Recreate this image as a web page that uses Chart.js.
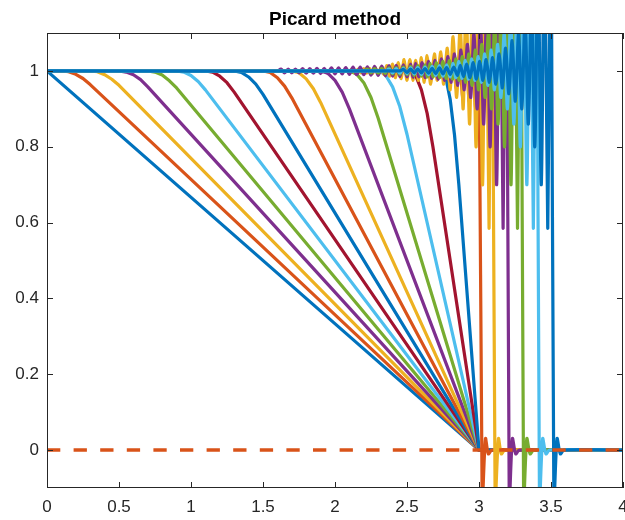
<!DOCTYPE html>
<html>
<head>
<meta charset="utf-8">
<script src="https://cdn.jsdelivr.net/npm/chart.js@4.4.1/dist/chart.umd.min.js"></script>
<style>
  html, body { margin: 0; padding: 0; background: #ffffff; }
  canvas { display: block; }
</style>
</head>
<body>
<canvas id="c" width="625" height="520"></canvas>
<script>
// Axis ticks
const xTicks = [0, 0.5, 1, 1.5, 2, 2.5, 3, 3.5, 4];
const yTicks = [0, 0.2, 0.4, 0.6, 0.8, 1];

// Profiles before the shock forms (t = 0 ... 2.8): plateau, rounded knee, ramp to (3, 0)
const u00 = [[0,1],[3,0],[4,0]];
const u02 = [[0,1],[0.1,1],[0.15,0.998],[0.2,0.991],[0.25,0.98],[0.3,0.964],[3,0],[4,0]];
const u04 = [[0,1],[0.3,1],[0.35,0.998],[0.4,0.99],[0.45,0.978],[0.5,0.962],[3,0],[4,0]];
const u06 = [[0,1],[0.5,1],[0.55,0.997],[0.6,0.99],[0.65,0.977],[0.7,0.958],[3,0],[4,0]];
const u08 = [[0,1],[0.7,1],[0.75,0.997],[0.8,0.989],[0.85,0.974],[0.9,0.955],[3,0],[4,0]];
const u10 = [[0,1],[0.9,1],[0.95,0.997],[1.0,0.988],[1.05,0.972],[1.1,0.95],[3,0],[4,0]];
const u12 = [[0,1],[1.1,1],[1.15,0.997],[1.2,0.986],[1.25,0.969],[1.3,0.944],[3,0],[4,0]];
const u14 = [[0,1],[1.3,1],[1.35,0.996],[1.4,0.984],[1.45,0.965],[1.5,0.938],[3,0],[4,0]];
const u16 = [[0,1],[1.5,1],[1.55,0.996],[1.6,0.982],[1.65,0.96],[1.7,0.929],[3,0],[4,0]];
const u18 = [[0,1],[1.7,1],[1.75,0.995],[1.8,0.979],[1.85,0.953],[1.9,0.917],[3,0],[4,0]];
const u20 = [[0,1],[1.9,1],[1.95,0.994],[2.0,0.975],[2.05,0.944],[2.1,0.9],[3,0],[4,0]];
const u22 = [[0,1],[2.1,1],[2.15,0.992],[2.2,0.969],[2.25,0.93],[2.3,0.875],[3,0],[4,0]];
const u24 = [[0,1],[2.3,1],[2.35,0.99],[2.4,0.958],[2.45,0.906],[2.5,0.833],[3,0],[4,0]];
const u26 = [[0,1],[2.52,1],[2.56,0.988],[2.6,0.95],[2.64,0.888],[2.68,0.8],[3,0],[4,0]];
const u28 = [[0,1],[2.74,1],[2.77,0.981],[2.8,0.925],[2.83,0.831],[2.86,0.7],[3,0],[4,0]];

// Profiles after the shock (t = 3.0 ... 4.0): ringing behind the jump, undershoot at the foot
const u30 = [[0,1],[2.6,1],[2.6175,0.992],[2.64,1.008],[2.6625,0.99],[2.685,1.01],[2.7075,0.985],[2.73,1.015],
  [2.7525,0.98],[2.775,1.02],[2.7975,0.97],[2.82,1.03],[2.8425,0.955],[2.865,1.04],[2.8875,0.93],[2.91,1.05],
  [2.9325,0.92],[2.955,1.06],[2.9775,0.9],[3.0,1.06],[3.022,-0.14],[3.045,0.03],[3.065,-0.01],[3.09,0],[4,0]];

const u32 = [[0,1],[2.10,1],[2.12,1.005],[2.14,0.995],[2.16,1.005],[2.18,0.995],[2.20,1.006],[2.22,0.994],
  [2.24,1.007],[2.26,0.993],[2.28,1.008],[2.30,0.992],[2.32,1.01],[2.34,0.99],[2.36,1.014],[2.38,0.986],
  [2.40,1.018],[2.42,0.982],[2.44,1.022],[2.46,0.98],[2.48,1.03],[2.50,0.975],[2.52,1.03],[2.54,0.975],
  [2.56,1.028],[2.58,0.975],[2.60,1.035],[2.62,0.97],[2.64,1.04],[2.665,0.965],[2.69,1.045],[2.71,0.975],
  [2.735,1.05],[2.755,0.965],[2.78,1.06],[2.80,0.95],[2.82,1.09],[2.845,0.93],[2.87,1.12],[2.89,0.90],
  [2.91,1.18],[2.935,0.86],[2.955,1.25],[2.98,0.80],[3.0,1.35],[3.025,0.70],[3.045,1.4],[3.07,0.585],
  [3.09,1.5],[3.112,-0.14],[3.135,0.03],[3.155,-0.01],[3.18,0],[4,0]];

const u34 = [[0,1],[1.60,1],[1.625,1.005],[1.65,0.995],[1.675,1.005],[1.70,0.995],[1.725,1.005],[1.75,0.995],
  [1.775,1.006],[1.80,0.994],[1.825,1.006],[1.85,0.994],[1.875,1.007],[1.90,0.993],[1.925,1.007],[1.95,0.993],
  [1.975,1.008],[2.00,0.992],[2.025,1.008],[2.05,0.992],[2.075,1.009],[2.10,0.991],[2.125,1.01],[2.15,0.99],
  [2.175,1.01],[2.20,0.99],[2.225,1.011],[2.25,0.989],[2.275,1.012],[2.30,0.988],[2.325,1.013],[2.35,0.987],
  [2.375,1.014],[2.40,0.986],[2.425,1.015],[2.45,0.985],[2.475,1.016],[2.50,0.984],[2.525,1.018],[2.5425,0.983],
  [2.56,1.02],[2.5825,0.984],[2.605,1.022],[2.6275,0.982],[2.65,1.025],[2.6725,0.98],[2.695,1.028],[2.7175,0.978],
  [2.74,1.032],[2.7625,0.975],[2.785,1.038],[2.8075,0.97],[2.83,1.045],[2.8525,0.962],[2.875,1.055],[2.8975,0.95],
  [2.92,1.07],[2.9425,0.93],[2.965,1.10],[2.9875,0.90],[3.01,1.14],[3.0325,0.86],[3.055,1.2],[3.0775,0.80],
  [3.10,1.3],[3.1225,0.70],[3.145,1.4],[3.1675,0.585],[3.19,1.5],[3.21,-0.14],[3.232,0.03],[3.255,-0.01],
  [3.28,0],[4,0]];

const u36 = [[0,1],[2.20,1],[2.225,1.005],[2.25,0.995],[2.275,1.006],[2.30,0.994],[2.325,1.007],[2.35,0.993],
  [2.375,1.008],[2.40,0.992],[2.425,1.009],[2.45,0.991],[2.475,1.01],[2.50,0.99],[2.525,1.012],[2.55,0.988],
  [2.575,1.014],[2.60,0.986],[2.625,1.016],[2.6425,0.984],[2.66,1.02],[2.6825,0.984],[2.705,1.022],[2.7275,0.982],
  [2.75,1.025],[2.7725,0.98],[2.795,1.028],[2.8175,0.978],[2.84,1.032],[2.8625,0.975],[2.885,1.038],[2.9075,0.97],
  [2.93,1.045],[2.9525,0.962],[2.975,1.055],[2.9975,0.95],[3.02,1.07],[3.0425,0.93],[3.065,1.10],[3.0875,0.90],
  [3.11,1.14],[3.1325,0.86],[3.155,1.2],[3.1775,0.80],[3.20,1.3],[3.2225,0.70],[3.245,1.4],[3.2675,0.585],
  [3.29,1.5],[3.31,-0.14],[3.332,0.03],[3.355,-0.01],[3.38,0],[4,0]];

const u38 = [[0,1],[2.35,1],[2.375,1.005],[2.40,0.995],[2.425,1.006],[2.45,0.994],[2.475,1.007],[2.50,0.993],
  [2.525,1.008],[2.55,0.992],[2.575,1.009],[2.60,0.991],[2.625,1.01],[2.65,0.99],[2.675,1.012],[2.70,0.988],
  [2.725,1.014],[2.75,0.986],[2.775,1.016],[2.80,0.984],[2.82,1.02],[2.84,0.982],[2.86,1.025],[2.8825,0.98],
  [2.905,1.028],[2.9275,0.978],[2.95,1.032],[2.9725,0.975],[2.995,1.038],[3.0175,0.97],[3.04,1.045],[3.0625,0.962],
  [3.085,1.055],[3.1075,0.95],[3.13,1.07],[3.1525,0.93],[3.175,1.10],[3.1975,0.90],[3.22,1.14],[3.2425,0.86],
  [3.265,1.2],[3.2875,0.80],[3.31,1.3],[3.3325,0.70],[3.355,1.4],[3.3775,0.585],[3.40,1.5],[3.42,-0.14],
  [3.442,0.03],[3.465,-0.01],[3.49,0],[4,0]];

const u40 = [[0,1],[2.45,1],[2.475,1.004],[2.50,0.996],[2.525,1.005],[2.55,0.995],[2.575,1.005],[2.60,0.995],
  [2.625,1.006],[2.65,0.994],[2.675,1.007],[2.70,0.993],[2.725,1.008],[2.75,0.992],[2.775,1.009],[2.80,0.991],
  [2.825,1.01],[2.85,0.988],[2.87,1.015],[2.8925,0.985],[2.915,1.018],[2.9375,0.982],[2.96,1.022],[2.9825,0.978],
  [3.005,1.025],[3.0275,0.975],[3.05,1.03],[3.0725,0.97],[3.095,1.035],[3.1175,0.965],[3.14,1.045],[3.1625,0.955],
  [3.185,1.06],[3.2075,0.94],[3.23,1.08],[3.2525,0.92],[3.275,1.10],[3.2975,0.90],[3.32,1.14],[3.3425,0.86],
  [3.365,1.2],[3.3875,0.80],[3.41,1.3],[3.4325,0.70],[3.455,1.4],[3.4775,0.585],[3.50,1.5],[3.52,-0.14],
  [3.542,0.03],[3.565,-0.01],[3.59,0],[4,0]];

// Reference level
const zeroLine = [[0,0],[4,0]];

const C = {
  blue: '#0072BD', orange: '#D95319', yellow: '#EDB120', purple: '#7E2F8E',
  green: '#77AC30', sky: '#4DBEEE', wine: '#A2142F'
};

// Drawn bottom to top; the third entry marks the ringing profiles, drawn as smooth waves
const profiles = [
  [u00, C.blue, false], [u02, C.orange, false], [u04, C.yellow, false], [u06, C.purple, false],
  [u08, C.green, false], [u10, C.sky, false], [u12, C.wine, false], [u14, C.blue, false],
  [u16, C.orange, false], [u18, C.yellow, false], [u20, C.purple, false], [u22, C.green, false],
  [u24, C.sky, false], [u26, C.wine, false], [u28, C.blue, false],
  [u30, C.orange, true], [u32, C.yellow, true], [u34, C.purple, true], [u36, C.green, true],
  [u38, C.sky, true], [u40, C.blue, true]
];

const datasets = profiles.map(([data, color, wavy], i) => ({
  data,
  borderColor: color,
  borderWidth: 3.2,
  pointRadius: 0,
  tension: wavy ? 0.3 : 0,
  fill: false,
  clip: 0,
  borderJoinStyle: 'round',
  borderCapStyle: 'round',
  order: profiles.length - i + 1
}));
datasets.push({
  data: zeroLine,
  borderColor: C.orange,
  borderWidth: 3.5,
  borderDash: [13.3, 13.3],
  borderCapStyle: 'butt',
  pointRadius: 0,
  tension: 0,
  fill: false,
  clip: 0,
  order: 0
});

const FONT = '"Liberation Sans", Arial, Helvetica, sans-serif';
const AXIS = '#262626';

const frame = {
  id: 'frame',
  afterDatasetsDraw(chart) {
    const { ctx, chartArea: a, scales: { x, y } } = chart;
    ctx.save();
    ctx.strokeStyle = AXIS;
    ctx.lineWidth = 1;
    ctx.beginPath();
    const tl = 6;
    for (const v of xTicks) {
      const px = Math.round(x.getPixelForValue(v)) + 0.5;
      ctx.moveTo(px, a.bottom); ctx.lineTo(px, a.bottom - tl);
      ctx.moveTo(px, a.top); ctx.lineTo(px, a.top + tl);
    }
    for (const v of yTicks) {
      const py = Math.round(y.getPixelForValue(v)) + 0.5;
      ctx.moveTo(a.left, py); ctx.lineTo(a.left + tl, py);
      ctx.moveTo(a.right, py); ctx.lineTo(a.right - tl, py);
    }
    ctx.stroke();
    ctx.strokeRect(a.left + 0.5, a.top + 0.5, a.width - 1, a.height - 1);
    ctx.restore();
  },
  afterDraw(chart) {
    const { ctx, chartArea: a } = chart;
    ctx.save();
    ctx.fillStyle = '#000000';
    ctx.font = 'bold 19px ' + FONT;
    ctx.textAlign = 'center';
    ctx.textBaseline = 'alphabetic';
    ctx.fillText('Picard method', (a.left + a.right) / 2, 25);
    ctx.restore();
  }
};

new Chart(document.getElementById('c'), {
  type: 'line',
  data: { datasets },
  plugins: [frame],
  options: {
    responsive: false,
    devicePixelRatio: 1,
    animation: false,
    events: [],
    layout: { padding: { top: 33, right: 2, bottom: 0, left: 0 } },
    plugins: { legend: { display: false }, tooltip: { enabled: false }, title: { display: false } },
    scales: {
      x: {
        type: 'linear', min: 0, max: 4,
        grid: { display: false, drawTicks: false },
        border: { display: false },
        ticks: {
          color: AXIS, padding: 9, maxRotation: 0, autoSkip: false,
          font: { size: 17, family: FONT },
          callback: v => String(v)
        },
        afterBuildTicks: s => { s.ticks = xTicks.map(v => ({ value: v })); },
        afterFit: s => { s.height = 32; s.paddingLeft = 0; s.paddingRight = 0; }
      },
      y: {
        type: 'linear', min: -0.1, max: 1.1,
        grid: { display: false, drawTicks: false },
        border: { display: false },
        ticks: {
          color: AXIS, padding: 8, autoSkip: false,
          font: { size: 17, family: FONT },
          callback: v => String(v)
        },
        afterBuildTicks: s => { s.ticks = yTicks.map(v => ({ value: v })); },
        afterFit: s => { s.width = 47; s.paddingTop = 0; s.paddingBottom = 0; }
      }
    }
  }
});
</script>
</body>
</html>
